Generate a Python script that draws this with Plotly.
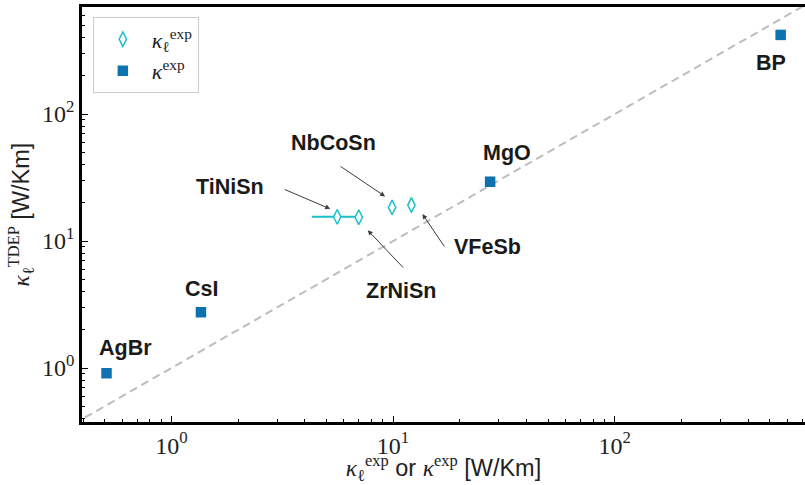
import numpy as np
import plotly.graph_objects as go

# Half-Heusler compounds: experimental lattice conductivity vs TDEP
lat_names = ["TiNiSn", "ZrNiSn", "NbCoSn", "VFeSb"]
lat_exp = [5.6, 7.0, 9.9, 12.1]
lat_tdep = [15.5, 15.4, 18.4, 19.2]
lat_err_plus = [1.4, 0, 0, 0]
lat_err_minus = [1.3, 0, 0, 0]

# Compounds with total experimental conductivity
tot_names = ["AgBr", "CsI", "MgO", "BP"]
tot_exp = [0.51, 1.36, 27.4, 560]
tot_tdep = [0.91, 2.75, 29.3, 420]

# Axis ticks
major_vals = [1, 10, 100]
major_text = ["10<sup>0</sup>", "10<sup>1</sup>", "10<sup>2</sup>"]
minor_vals = [m * d for d in (0.1, 1, 10, 100) for m in range(2, 10)]

# Parity line extent
parity = [0.1, 2000]

BLUE = "#0d72b0"
CYAN = "#1cc0cb"
SERIF = "Liberation Serif"
SANS = "Liberation Sans"

fig = go.Figure()

fig.add_trace(go.Scatter(
    x=parity, y=parity, mode="lines",
    line=dict(color="#bdbdbd", width=2, dash="8px,5px"),
    showlegend=False, hoverinfo="skip",
))

fig.add_trace(go.Scatter(
    x=lat_exp, y=lat_tdep, mode="markers",
    name="<i>κ</i><sub>ℓ</sub><sup>exp</sup>",
    marker=dict(symbol="diamond-tall", size=10.5, color="white",
                line=dict(color=CYAN, width=1.5)),
    error_x=dict(type="data", symmetric=False, array=lat_err_plus,
                 arrayminus=lat_err_minus, color=CYAN, thickness=2, width=0),
))

fig.add_trace(go.Scatter(
    x=tot_exp, y=tot_tdep, mode="markers",
    name="<i>κ</i><sup>exp</sup>",
    marker=dict(symbol="square", size=10.5, color=BLUE),
))

label_font = dict(family=SANS, size=21.5, color="#1a1a1a", weight="bold")

# label offsets (pixels) relative to each point
lat_label_shift = {"TiNiSn": (-107, 30), "ZrNiSn": (42, -74),
                   "NbCoSn": (-59, 64), "VFeSb": (76, -42)}
# arrow head shift, and tail offset from head (pixels)
lat_arrow = {"TiNiSn": ((-7, 8), (-47, -20)),
             "ZrNiSn": ((9, -13), (37, 39)),
             "NbCoSn": ((-7, 11), (-46, -31)),
             "VFeSb": ((11, -9), (23, 34))}
tot_label_shift = {"AgBr": (19, 25), "CsI": (1, 23),
                   "MgO": (17, 29), "BP": (-10, -28)}

for n, xv, yv in zip(lat_names, lat_exp, lat_tdep):
    sx, sy = lat_label_shift[n]
    fig.add_annotation(x=np.log10(xv), y=np.log10(yv), text=n, showarrow=False,
                       xshift=sx, yshift=sy, font=label_font)
    (hx, hy), (ax, ay) = lat_arrow[n]
    fig.add_annotation(x=np.log10(xv), y=np.log10(yv), text="", showarrow=True,
                       xshift=hx, yshift=hy, ax=ax, ay=ay,
                       arrowhead=2, arrowsize=1, arrowwidth=1, arrowcolor="#3c3c3c")

for n, xv, yv in zip(tot_names, tot_exp, tot_tdep):
    sx, sy = tot_label_shift[n]
    fig.add_annotation(x=np.log10(xv), y=np.log10(yv), text=n, showarrow=False,
                       xshift=sx, yshift=sy, font=label_font)

axis_common = dict(
    type="log", showgrid=False, zeroline=False,
    showline=True, linecolor="black", linewidth=2.5,
    ticks="inside", ticklen=6, tickwidth=1.2, tickcolor="black",
    tickvals=major_vals, ticktext=major_text,
    tickfont=dict(family=SERIF, size=24, color="#222222"),
    minor=dict(tickvals=minor_vals, ticks="inside", ticklen=3.5,
               tickwidth=1, tickcolor="black"),
)

fig.update_xaxes(
    **axis_common, mirror=True, range=[-0.403, 2.858],
    title=dict(
        text="<i>κ</i><sub>ℓ</sub><sup>exp</sup>"
             f"<span style='font-family:{SANS}'> or </span>"
             "<i>κ</i><sup>exp</sup>"
             f"<span style='font-family:{SANS}'> [W/Km]</span>",
        font=dict(family=SERIF, size=23.5, color="#222222"), standoff=7),
)
fig.update_yaxes(
    **axis_common, range=[-0.425, 2.843],
    title=dict(
        text="<i>κ</i><sub>ℓ</sub><sup>TDEP</sup>"
             f"<span style='font-family:{SANS}'> [W/Km]</span>",
        font=dict(family=SERIF, size=23.5, color="#222222"), standoff=6),
)

fig.update_layout(
    width=805, height=485,
    margin=dict(l=82, r=0, t=7, b=63),
    plot_bgcolor="white", paper_bgcolor="white",
    legend=dict(x=0.015, y=0.975, xanchor="left", yanchor="top",
                bordercolor="#cccccc", borderwidth=1, bgcolor="white",
                font=dict(family=SERIF, size=22, color="#222222"),
                itemwidth=48, tracegroupgap=0),
)

fig.write_html("out.html")
